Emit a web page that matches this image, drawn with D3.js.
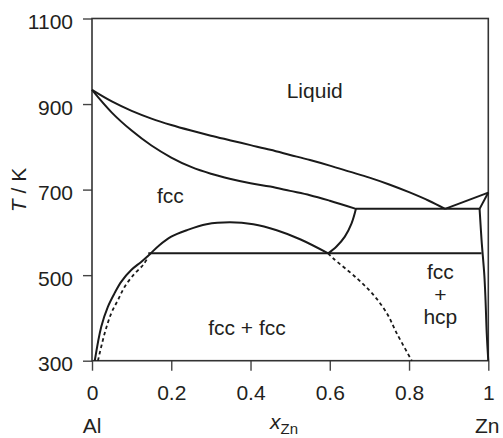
<!DOCTYPE html>
<html>
<head>
<meta charset="utf-8">
<script src="https://cdn.jsdelivr.net/npm/d3@7"></script>
<style>
  html, body { margin: 0; padding: 0; background: #fff; }
  svg { display: block; }
  text { font-family: "Liberation Sans", Arial, Helvetica, sans-serif; fill: #231f20; }
</style>
</head>
<body>
<svg id="chart" width="503" height="438"></svg>
<script>
// ---------- data (x_Zn, T/K) ----------
const xTicks = [0, 0.2, 0.4, 0.6, 0.8, 1];
const xTickLabels = ["0", "0.2", "0.4", "0.6", "0.8", "1"];
const yTicks = [300, 500, 700, 900, 1100];
const yTickLabels = ["300", "500", "700", "900", "1100"];

// Al-rich liquidus down to the eutectic
const liquidusAl = [[0, 933], [0.05, 906], [0.1, 884], [0.15, 866], [0.2, 851], [0.25, 838],
  [0.3, 826], [0.35, 815], [0.4, 804], [0.45, 793], [0.5, 781], [0.55, 769], [0.6, 756],
  [0.65, 742], [0.7, 728], [0.75, 712], [0.8, 694], [0.85, 674], [0.891, 655]];
// Zn-rich liquidus
const liquidusZn = [[0.891, 655], [1.0, 693]];
// fcc solidus
const solidusFcc = [[0, 933], [0.05, 880], [0.1, 838], [0.15, 803], [0.2, 775], [0.25, 753],
  [0.3, 737], [0.35, 725], [0.4, 715], [0.45, 707], [0.5, 697], [0.55, 687], [0.6, 674],
  [0.666, 655]];
// hcp solidus
const solidusHcp = [[1.0, 693], [0.978, 655]];
// eutectic and monotectoid lines
const eutecticLine = [[0.666, 655], [0.978, 655]];
const monotectoidLine = [[0.142, 551], [0.983, 551]];
// fcc miscibility gap (binodal)
const binodal = [[0.007, 300], [0.0235, 380], [0.04, 426], [0.057, 458], [0.074, 485],
  [0.099, 512], [0.124, 531], [0.146, 549], [0.17, 570], [0.2, 590], [0.239, 605], [0.289, 619],
  [0.348, 623.5], [0.407, 619], [0.466, 605], [0.525, 584], [0.596, 551]];
// Zn-rich fcc solvus
const solvusFcc = [[0.596, 551], [0.617, 567], [0.638, 590], [0.655, 621], [0.666, 655]];
// hcp solvus
const solvusHcp = [[0.978, 655], [0.983, 582], [0.99, 500], [0.993, 442], [0.996, 365], [1.0, 300]];
// metastable extension (dashed)
const dashedLeft = [[0.015, 300], [0.032, 364], [0.0487, 411], [0.0656, 442], [0.0825, 473],
  [0.108, 504], [0.129, 524], [0.142, 543]];
const dashedRight = [[0.596, 551], [0.609, 539], [0.668, 493], [0.71, 454], [0.744, 411],
  [0.769, 364], [0.807, 300]];

const regionLabels = [
  {text: "Liquid", x: 0.562, T: 915},
  {text: "fcc", x: 0.198, T: 668},
  {text: "fcc + fcc", x: 0.391, T: 361},
  {text: "fcc", x: 0.879, T: 492},
  {text: "+", x: 0.879, T: 438},
  {text: "hcp", x: 0.879, T: 386}
];

// ---------- layout ----------
const svg = d3.select("#chart");
const mLeft = 92, mRight = 488.3, mTop = 18.5, mBottom = 360.7;
const x = d3.scaleLinear().domain([0, 1]).range([mLeft, mRight]);
const y = d3.scaleLinear().domain([300, 1100]).range([mBottom, mTop]);

// axes
const yAxis = d3.axisLeft(y).tickValues(yTicks).tickFormat((d, i) => yTickLabels[i])
  .tickSize(9).tickPadding(10).tickSizeOuter(0);
const xAxis = d3.axisBottom(x).tickValues(xTicks).tickFormat((d, i) => xTickLabels[i])
  .tickSize(10).tickPadding(14).tickSizeOuter(0);

const gy = svg.append("g").attr("transform", `translate(${mLeft},0)`).call(yAxis);
const gx = svg.append("g").attr("transform", `translate(0,${mBottom})`).call(xAxis);
[gy, gx].forEach(g => {
  g.select(".domain").remove();
  g.selectAll(".tick line").attr("stroke", "#444").attr("stroke-width", 1.4);
  g.selectAll(".tick text").attr("font-size", 21).attr("fill", "#231f20")
    .style("font-family", '"Liberation Sans", Arial, sans-serif');
});
gy.selectAll(".tick text").attr("dy", "0.48em");

// frame
svg.append("rect").attr("x", mLeft).attr("y", mTop)
  .attr("width", mRight - mLeft).attr("height", mBottom - mTop)
  .attr("fill", "none").attr("stroke", "#333").attr("stroke-width", 1.6);

// curves
const smooth = d3.line().x(d => x(d[0])).y(d => y(d[1])).curve(d3.curveCatmullRom.alpha(0.5));
const straight = d3.line().x(d => x(d[0])).y(d => y(d[1]));

const gc = svg.append("g").attr("fill", "none").attr("stroke", "#1a1a1a")
  .attr("stroke-width", 2).attr("stroke-linejoin", "round");
[liquidusAl, solidusFcc, binodal, solvusFcc, solvusHcp].forEach(arr =>
  gc.append("path").attr("d", smooth(arr)));
[liquidusZn, solidusHcp, eutecticLine, monotectoidLine].forEach(arr =>
  gc.append("path").attr("d", straight(arr)));
[dashedLeft, dashedRight].forEach(arr =>
  gc.append("path").attr("d", smooth(arr)).attr("stroke-dasharray", "3.5,3")
    .attr("stroke-width", 1.8));

// region labels
svg.append("g").selectAll("text").data(regionLabels).join("text")
  .attr("x", d => x(d.x)).attr("y", d => y(d.T))
  .attr("text-anchor", "middle").attr("font-size", 21)
  .text(d => d.text);

// component labels
svg.append("text").attr("x", x(0)).attr("y", 433).attr("text-anchor", "middle")
  .attr("font-size", 21).text("Al");
svg.append("text").attr("x", x(1) - 1).attr("y", 433).attr("text-anchor", "middle")
  .attr("font-size", 21).text("Zn");

// x-axis title
const xt = svg.append("text").attr("x", 270).attr("y", 429).attr("font-size", 21);
xt.append("tspan").attr("font-style", "italic").text("x");
xt.append("tspan").attr("font-size", 15).attr("dy", 5).text("Zn");

// y-axis title
const yt = svg.append("text").attr("transform", "translate(26,190) rotate(-90)")
  .attr("text-anchor", "middle").attr("font-size", 21);
yt.append("tspan").attr("font-style", "italic").text("T");
yt.append("tspan").text(" / K");
</script>
</body>
</html>
